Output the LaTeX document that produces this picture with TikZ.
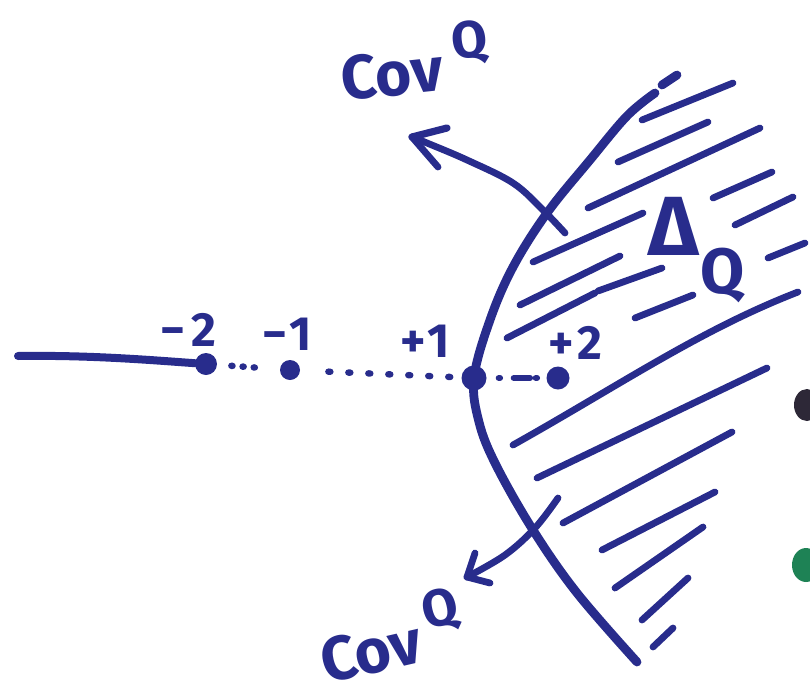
\documentclass[tikz,border=0pt]{standalone}
\usepackage{fontspec}
\setmainfont{Fira Sans}
\usetikzlibrary{calc}
\definecolor{ink}{RGB}{40,44,140}
\definecolor{blackink}{RGB}{45,40,55}
\definecolor{greenink}{RGB}{30,130,85}
\tikzset{
  pen/.style={draw=ink, line width=3.8pt, line cap=round, line join=round},
  hatch/.style={draw=ink, line width=3.4pt, line cap=round},
  dotn/.style={circle, fill=ink, inner sep=0pt, minimum size=11pt},
  dotline/.style={draw=ink, line width=3.2pt, line cap=round, dash pattern=on 0.6pt off 5pt},
  lab/.style={text=ink, font=\bfseries\fontsize{24}{24}\selectfont, inner sep=0pt, anchor=base west},
  big/.style={text=ink, font=\bfseries\fontsize{31}{31}\selectfont, inner sep=0pt, anchor=base west},
}
\begin{document}
\begin{tikzpicture}[x=0.5pt,y=-0.5pt]
\useasboundingbox (0,0) rectangle (810,697);

% hatching
\draw[hatch] (642,120) -- (733,83);
\draw[hatch] (618,162) -- (708,122);
\draw[hatch] (588,208) -- (760,128);
\draw[hatch] (713,198) -- (772,172);
\draw[hatch] (735,225) -- (793,197);
\draw[hatch] (768,258) -- (805,243);
\draw[hatch] (533,262) -- (643,213);
\draw[hatch] (520,305) -- (620,256);
\draw[hatch] (507,338) -- (595,293);
\draw[hatch] (598,291) -- (662,268);
\draw[hatch] (635,318) -- (693,295);
\draw[hatch] (513,445) .. controls (620,385) and (700,330) .. (798,292);
\draw[hatch] (537,478) -- (767,368);
\draw[hatch] (563,523) -- (732,432);
\draw[hatch] (602,550) -- (715,492);
\draw[hatch] (615,588) -- (703,527);
\draw[hatch] (642,620) -- (688,578);
\draw[hatch] (653,647) -- (673,628);

% main boundary curve
\draw[pen, line width=4.4pt] plot[smooth, tension=0.6] coordinates {(655,93) (627,116) (590,160) (547,213) (513,267) (490,320) (474,378) (479,422) (496,465) (533,530) (577,593) (637,662)};
\draw[pen, line width=4.4pt] (662,85) -- (677,75);

% left line and points
\coordinate (start) at (18,356);
\node[dotn] (m2) at (206,364) {};
\node[dotn, minimum size=10pt] (m1) at (290,370) {};
\node[dotn, minimum size=12.5pt] (p1) at (474,378) {};
\node[dotn, minimum size=11.5pt] (p2) at (558,378) {};
\draw[pen, line width=4pt] (start) .. controls (90,355) and (150,360) .. (m2);
\draw[dotline, shorten <=7pt, shorten >=12pt] (m2) -- (m1);
\draw[dotline, dash pattern=on 1pt off 9pt, shorten <=14pt, shorten >=4pt] (m1) -- (p1);
\draw[dotline, dash pattern=on 0.5pt off 7pt on 8pt off 3pt, shorten <=6pt] (p1) -- (p2);

% point labels
\node[lab] (lm2) at (160,346) {−\kern3pt2};
\node[lab] (lm1) at (262,350) {−\kern1pt1};
\node[lab] (lp1) at (400,357) {+\kern1pt1};
\node[lab] (lp2) at (548,359) {+\kern2pt2};

% arrows
\coordinate (ta) at (565,233);
\coordinate (tb) at (412,137);
\draw[pen, line width=3.4pt] plot[smooth, tension=0.6] coordinates {(ta) (543,210) (513,183) (467,160) (427,143) (tb)};
\draw[pen, line width=3.6pt] (tb) -- (447,128);
\draw[pen, line width=3.4pt] (tb) -- (438,167);

\coordinate (ba) at (558,498);
\coordinate (bb) at (467,577);
\draw[pen, line width=3.4pt] plot[smooth, tension=0.6] coordinates {(ba) (535,528) (505,555) (bb)};
\draw[pen, line width=3.4pt] (bb) -- (475,553);
\draw[pen, line width=3.4pt] (bb) -- (490,583);

% texts
\node[big, rotate=6] (covtop) at (343,101) {Cov\kern6pt\raisebox{15pt}{\fontsize{26}{26}\selectfont Q}};
\node[big, rotate=13] (covbot) at (326,684) {Cov\kern4pt\raisebox{15pt}{\fontsize{26}{26}\selectfont Q}};
\node[text=ink, font=\bfseries\fontsize{42}{42}\selectfont, inner sep=0pt, anchor=base west] (delta) at (648,255) {Δ\kern1pt\raisebox{-19pt}{\fontsize{32}{32}\selectfont Q}};

% stray marks at right edge
\fill[blackink] (807,405) ellipse [x radius=13, y radius=16];
\fill[greenink] (806,565) ellipse [x radius=14, y radius=17];
\end{tikzpicture}
\end{document}
